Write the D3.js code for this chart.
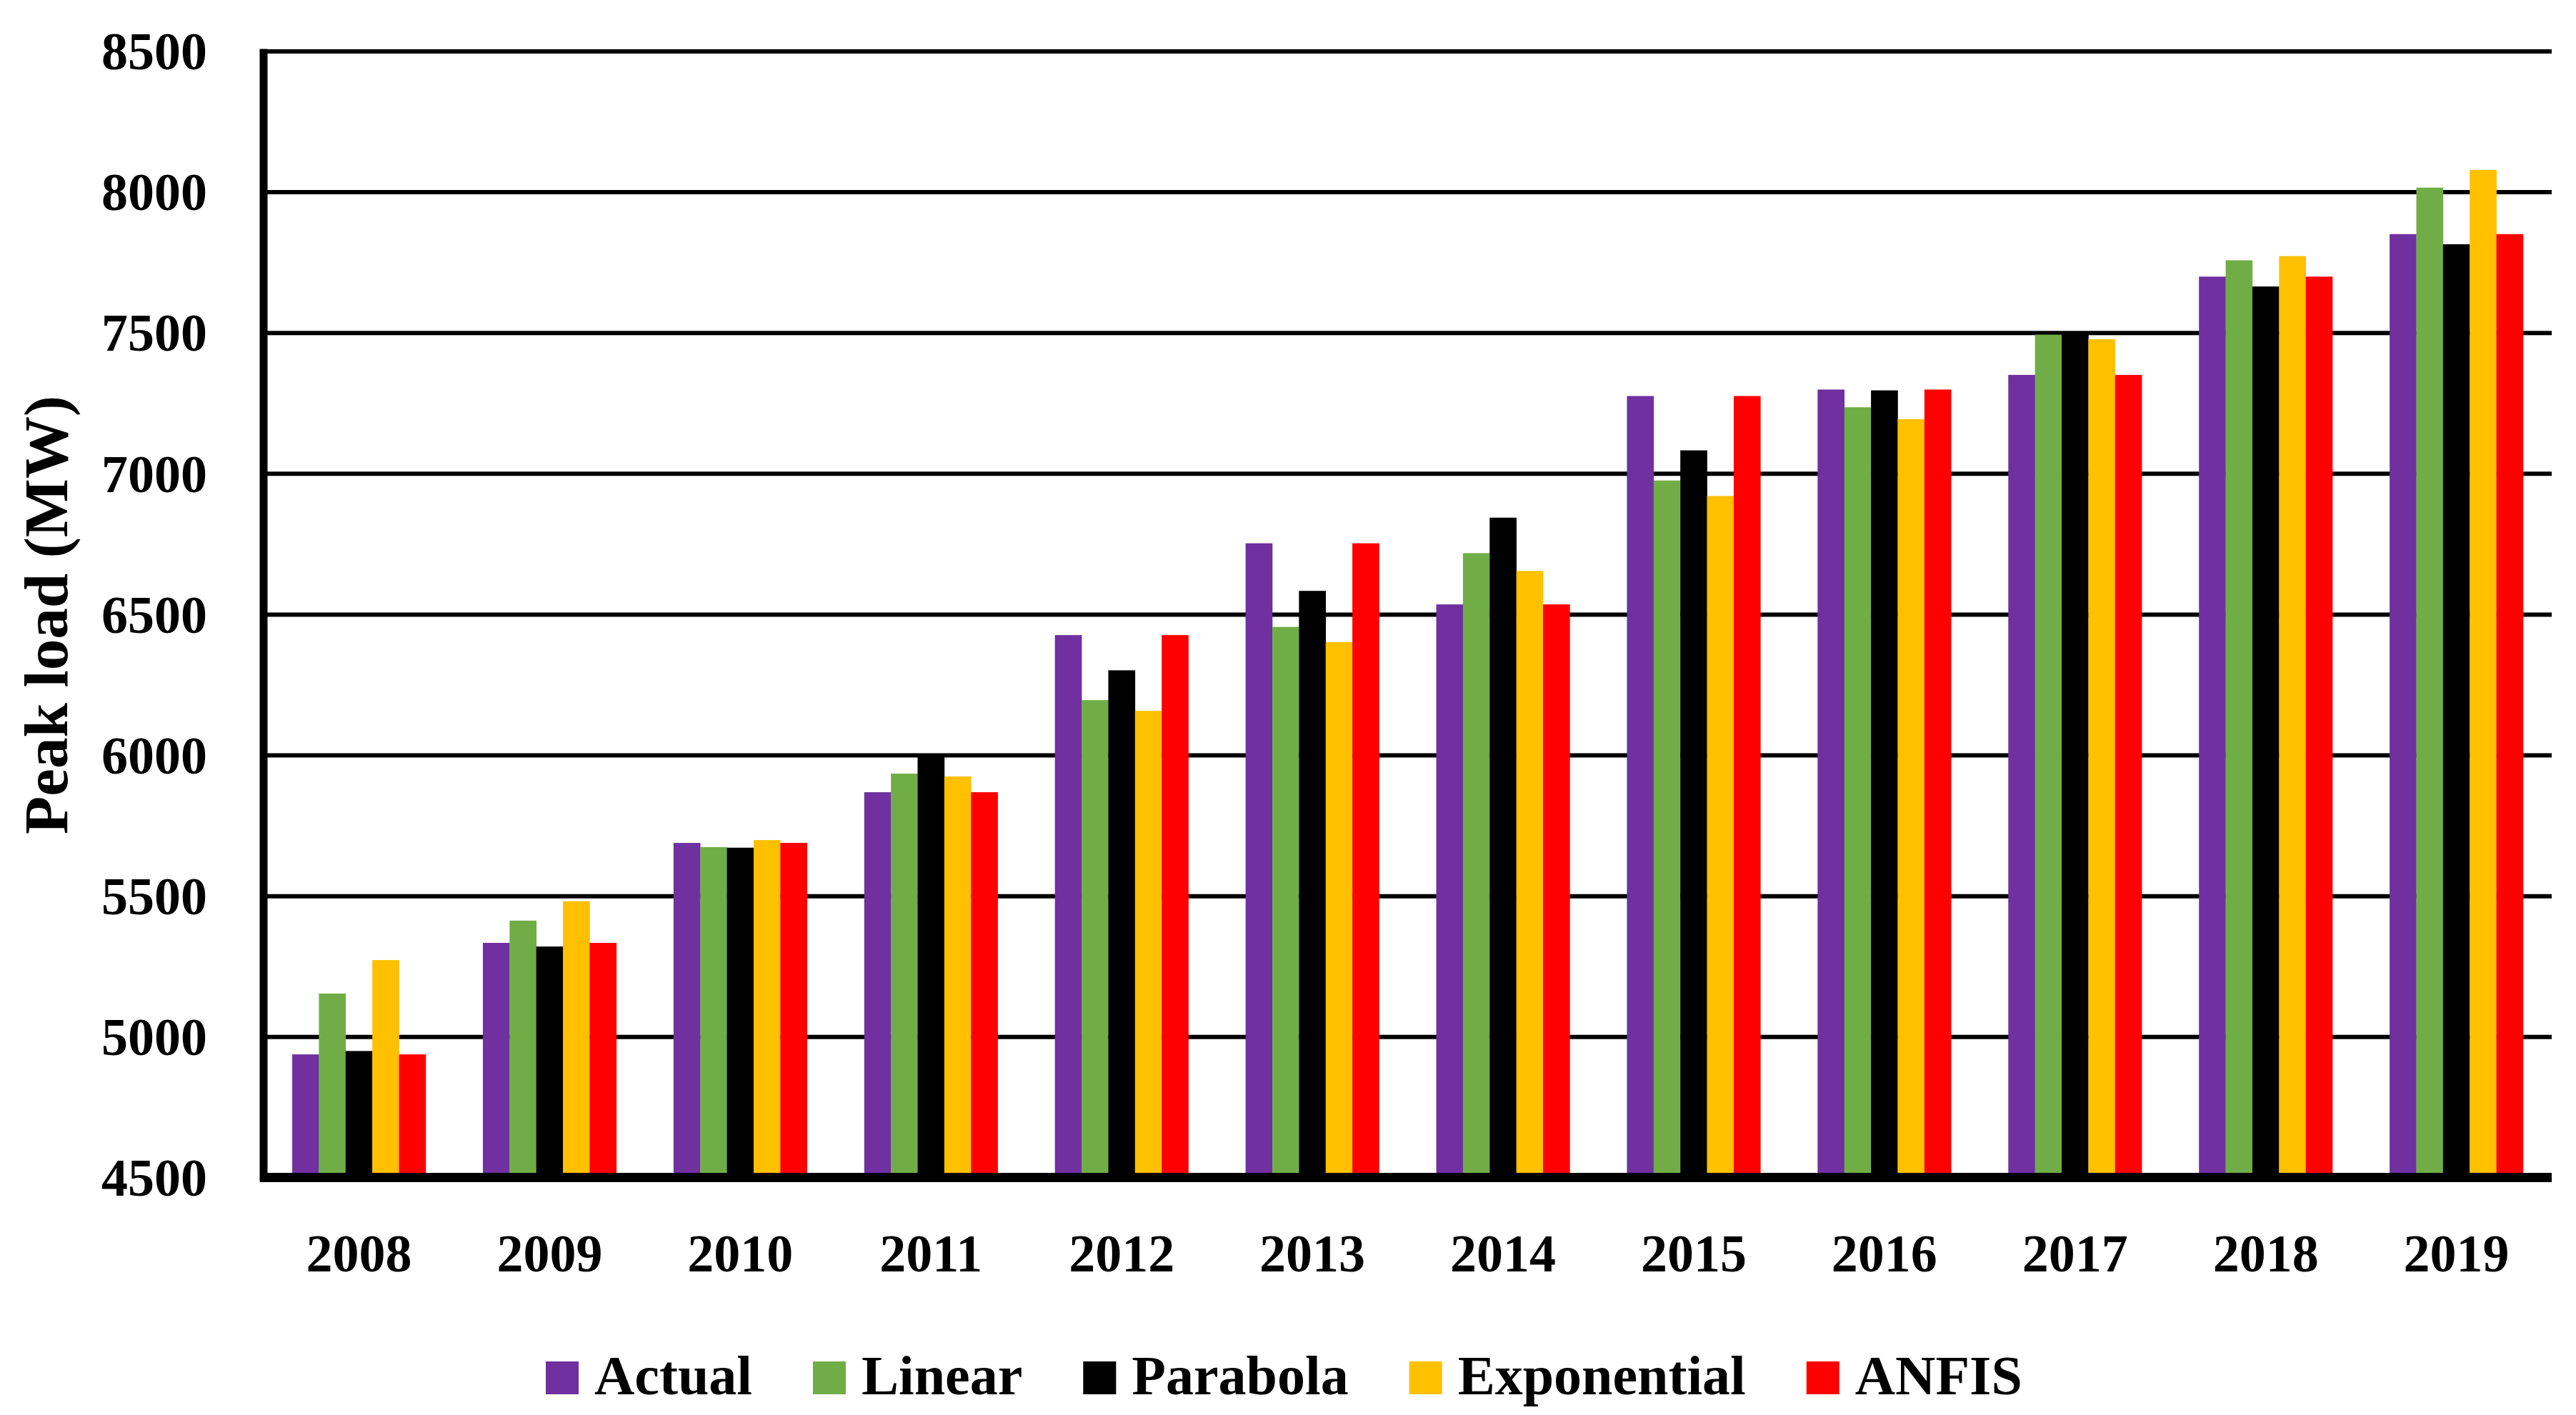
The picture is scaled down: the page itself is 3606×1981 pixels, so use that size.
<!DOCTYPE html>
<html>
<head>
<meta charset="utf-8">
<script src="https://cdn.jsdelivr.net/npm/d3@7"></script>
<style>
  html, body { margin: 0; padding: 0; background: #ffffff; }
  svg { display: block; }
  text { font-family: "Liberation Serif", "Times New Roman", serif; font-weight: bold; fill: #000; }
</style>
</head>
<body>
<svg id="chart" width="3606" height="1981"></svg>
<script>
// ---- data ----
const years = ["2008","2009","2010","2011","2012","2013","2014","2015","2016","2017","2018","2019"];
const seriesNames = ["Actual","Linear","Parabola","Exponential","ANFIS"];
const actual      = [4937, 5333, 5688, 5868, 6426, 6752, 6535, 7275, 7298, 7350, 7699, 7850];
const linear      = [5153, 5412, 5673, 5934, 6195, 6455, 6717, 6975, 7235, 7493, 7757, 8015];
const parabola    = [4949, 5320, 5671, 6003, 6301, 6583, 6843, 7082, 7295, 7502, 7664, 7814];
const exponential = [5272, 5481, 5698, 5924, 6157, 6401, 6654, 6920, 7193, 7477, 7772, 8078];
const anfis       = [4937, 5333, 5688, 5868, 6426, 6752, 6535, 7275, 7298, 7350, 7699, 7850];
const yTicks = [4500, 5000, 5500, 6000, 6500, 7000, 7500, 8000, 8500];
const colors = ["#7030A0", "#70AD47", "#000000", "#FFC000", "#FF0000"];

const seriesValues = [actual, linear, parabola, exponential, anfis];

// ---- layout ----
const plotLeft = 369, plotRight = 3572, plotTop = 71.5, plotBottom = 1648.4;
const svg = d3.select("#chart");

const x0 = d3.scaleBand().domain(years).range([plotLeft, plotRight]).paddingInner(0.3).paddingOuter(0.15);
const x1 = d3.scaleBand().domain(seriesNames).range([0, x0.bandwidth()]).padding(0);
const y = d3.scaleLinear().domain([4500, 8500]).range([plotBottom, plotTop]);
const color = d3.scaleOrdinal().domain(seriesNames).range(colors);

// gridlines + y labels
const yAxis = d3.axisLeft(y)
  .tickValues(yTicks)
  .tickSizeInner(-(plotRight - plotLeft))
  .tickSizeOuter(0)
  .tickPadding(79)
  .tickFormat(d3.format("d"));

const gy = svg.append("g").attr("transform", `translate(${plotLeft},0)`).call(yAxis);
gy.select(".domain").remove();
gy.selectAll(".tick line").attr("stroke", "#000").attr("stroke-width", 6)
  .attr("x1", -4);
gy.selectAll(".tick").filter(d => d === 4500).select("line").remove();
gy.selectAll(".tick text")
  .attr("font-size", 74)
  .attr("font-family", "Liberation Serif, serif")
  .attr("font-weight", "bold")
  .attr("dy", "0.34em");

// bars
const rows = years.map((yr, i) => ({ year: yr, vals: seriesNames.map((s, j) => ({ key: s, value: seriesValues[j][i] })) }));

svg.append("g").selectAll("g")
  .data(rows)
  .join("g")
  .attr("transform", d => `translate(${x0(d.year)},0)`)
  .selectAll("rect")
  .data(d => d.vals)
  .join("rect")
  .attr("x", d => x1(d.key))
  .attr("width", x1.bandwidth() + 0.3)
  .attr("y", d => y(d.value))
  .attr("height", d => y(4500) - y(d.value))
  .attr("fill", d => color(d.key));

// axis lines
svg.append("line")
  .attr("x1", plotLeft).attr("x2", plotLeft)
  .attr("y1", plotTop - 3).attr("y2", plotBottom + 6)
  .attr("stroke", "#000").attr("stroke-width", 11);
svg.append("line")
  .attr("x1", plotLeft - 5).attr("x2", plotRight)
  .attr("y1", plotBottom).attr("y2", plotBottom)
  .attr("stroke", "#000").attr("stroke-width", 13);

// x labels
const xAxis = d3.axisBottom(x0).tickSize(0).tickPadding(0);
const gx = svg.append("g").attr("transform", `translate(0,${plotBottom})`).call(xAxis);
gx.select(".domain").remove();
gx.selectAll(".tick text")
  .attr("y", 1780 - plotBottom)
  .attr("dy", 0)
  .attr("font-size", 74)
  .attr("font-family", "Liberation Serif, serif")
  .attr("font-weight", "bold");

// y title
svg.append("text")
  .attr("transform", `translate(94,861) rotate(-90)`)
  .attr("text-anchor", "middle")
  .attr("font-size", 87)
  .text("Peak load (MW)");

// legend
const legend = svg.append("g");
let lx = 764;
const sq = 46, legBase = 1952;
seriesNames.forEach((name, i) => {
  const g = legend.append("g");
  g.append("rect")
    .attr("x", lx).attr("y", legBase - sq).attr("width", sq).attr("height", sq)
    .attr("fill", colors[i]);
  const t = g.append("text")
    .attr("x", lx + sq + 22).attr("y", legBase)
    .attr("font-size", 78)
    .text(name);
  lx = lx + sq + 22 + t.node().getComputedTextLength() + 85;
});
</script>
</body>
</html>
